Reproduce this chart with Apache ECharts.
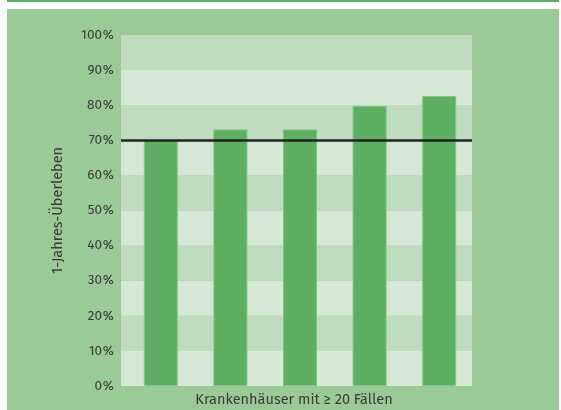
<!DOCTYPE html>
<html>
<head>
<meta charset="utf-8">
<script src="https://cdn.jsdelivr.net/npm/echarts@6/dist/echarts.min.js"></script>
<style>
html,body{margin:0;padding:0;background:#fff;}
#chart{width:561px;height:410px;}
</style>
</head>
<body>
<div id="chart"></div>
<script>
const categories = ['A', 'B', 'C', 'D', 'E'];
const survival = [70, 73.1, 73.1, 79.8, 82.6];
const referenceValue = [70];
const yTicks = [0, 10, 20, 30, 40, 50, 60, 70, 80, 90, 100];
const yAxisTitle = '1-Jahres-Überleben';
const xAxisTitle = 'Krankenhäuser mit ≥ 20 Fällen';

const FONT = '"Fira Sans", "Open Sans", "Noto Sans", sans-serif';
const chart = echarts.init(document.getElementById('chart'), null, {renderer: 'canvas'});

const option = {
  animation: false,
  backgroundColor: '#ffffff',
  graphic: [
    {type: 'rect', z: -10, shape: {x: 7, y: 0, width: 552, height: 2}, style: {fill: '#5dae62'}},
    {type: 'rect', z: -10, shape: {x: 7, y: 9, width: 552, height: 401}, style: {fill: '#9aca96'}},
    {type: 'text', z: 10, x: 294, y: 400,
     style: {text: xAxisTitle, fill: '#3a3a3a', font: '14.5px ' + FONT, textAlign: 'center', textVerticalAlign: 'middle'}}
  ],
  grid: [
    {left: 121, right: 89, top: 35, bottom: 24},
    {left: 126, right: 87, top: 35, bottom: 24}
  ],
  xAxis: [
    {type: 'category', gridIndex: 0, data: [''], show: false, boundaryGap: false},
    {type: 'category', gridIndex: 1, data: categories,
     axisLine: {show: false}, axisTick: {show: false}, axisLabel: {show: false}}
  ],
  yAxis: [
    {type: 'value', gridIndex: 0, min: 0, max: 100, interval: 10,
     axisLine: {show: false}, axisTick: {show: false}, splitLine: {show: false},
     splitArea: {show: true, areaStyle: {color: ['#d5e8d5', '#bfdcbf']}},
     axisLabel: {color: '#3a3a3a', fontSize: 13.5, fontFamily: FONT, margin: 7,
       formatter: v => yTicks.includes(v) ? v + '\u200A%' : ''},
     name: yAxisTitle, nameLocation: 'middle', nameGap: 56, nameRotate: 90,
     nameTextStyle: {color: '#3a3a3a', fontSize: 14.5, fontFamily: FONT}
    },
    {type: 'value', gridIndex: 1, min: 0, max: 100, interval: 10, show: false}
  ],
  series: [
    {type: 'bar', xAxisIndex: 1, yAxisIndex: 1, data: survival, barWidth: 34, z: 2,
     itemStyle: {color: '#5daf62', borderColor: '#86c287', borderWidth: 1}},
    {type: 'line', xAxisIndex: 0, yAxisIndex: 0, data: [], z: 5,
     markLine: {silent: true, symbol: 'none', label: {show: false},
       lineStyle: {color: '#222222', width: 2.5, type: 'solid'},
       data: [{yAxis: referenceValue[0]}]}}
  ]
};
chart.setOption(option);
</script>
</body>
</html>
